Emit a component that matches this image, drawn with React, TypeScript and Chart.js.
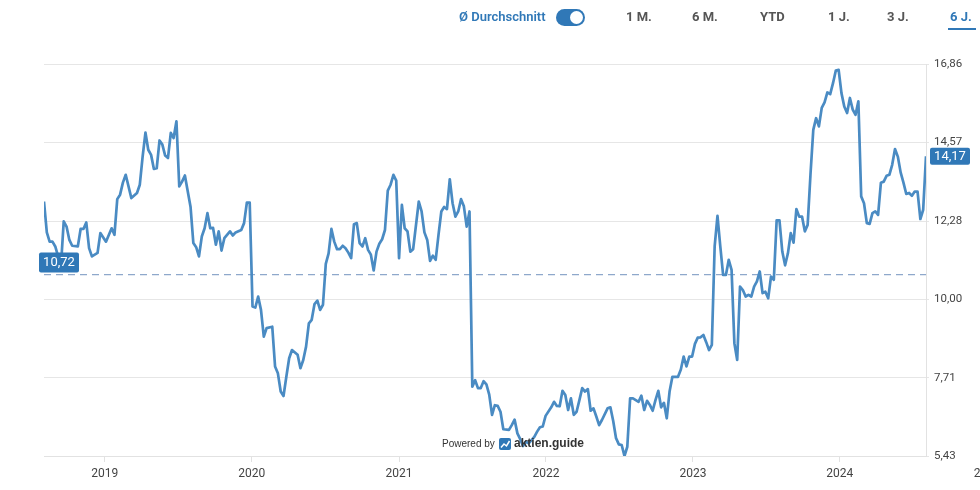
import { useEffect, useRef } from 'react';
import { Chart, registerables } from 'chart.js';
import type { ChartConfiguration, Plugin } from 'chart.js';

Chart.register(...registerables);

// weekly closes, week 0 = 2018-08-03
const startDate = Date.UTC(2018, 7, 3);
const DAY = 86400000;

const weekNumbers = [
  0, 1, 2, 3, 4, 5, 6, 7, 8, 9, 10, 12, 13, 14, 15, 16, 17, 19, 20, 22, 24, 25, 26, 27, 28, 29, 31, 33, 34,
  35, 36, 37, 38, 39, 40, 41, 42, 43, 44, 45, 46, 47, 48, 49, 50, 52, 53, 54, 55, 56, 57, 58, 59, 60, 61,
  62, 63, 64, 66, 67, 68, 70, 71, 72, 73, 74, 75, 76, 77, 78, 79, 81, 82, 83, 84, 85, 86, 87, 88, 90, 91,
  92, 93, 94, 95, 96, 97, 98, 99, 100, 101, 102, 103, 104, 105, 106, 107, 108, 109, 110, 111, 112, 113,
  114, 115, 116, 117, 118, 119, 120, 121, 122, 123, 124, 125, 126, 127, 128, 129, 130, 131, 133, 134, 135,
  136, 137, 138, 139, 140, 141, 142, 143, 144, 145, 146, 147, 148, 149, 150, 151, 152, 153, 154, 155, 156,
  157, 158, 159, 160, 161, 162, 163, 165, 166, 167, 168, 169, 170, 171, 172, 174, 175, 176, 177, 178, 180,
  181, 182, 183, 184, 185, 186, 187, 188, 189, 190, 191, 192, 193, 194, 195, 196, 197, 198, 200, 201, 202,
  203, 204, 205, 206, 207, 208, 209, 211, 212, 213, 214, 215, 216, 217, 218, 219, 220, 221, 222, 223, 225,
  226, 227, 228, 229, 230, 231, 232, 233, 234, 235, 236, 237, 238, 239, 240, 241, 242, 243, 244, 245, 246,
  247, 248, 249, 250, 251, 252, 253, 254, 255, 256, 257, 258, 259, 260, 261, 262, 263, 264, 265, 266, 267,
  268, 269, 270, 271, 272, 273, 274, 275, 276, 277, 278, 279, 280, 281, 282, 283, 284, 285, 286, 287, 288,
  289, 290, 291, 292, 293, 294, 295, 296, 297, 298, 299, 300, 301, 302, 303, 304, 305, 306, 307, 308, 309,
  310, 311, 312, 313,
];

const prices = [
  12.85, 11.95, 11.68, 11.68, 11.54, 11.25, 10.95, 12.27, 12.12, 11.73, 11.56, 11.54, 12.05, 12.05, 12.24,
  11.49, 11.25, 11.35, 11.93, 11.68, 12.07, 11.88, 12.92, 13.05, 13.4, 13.63, 12.95, 13.1, 13.34,
  14.16, 14.86, 14.36, 14.21, 13.8, 13.82, 14.63, 14.51, 14.19, 14.12, 14.85, 14.7, 15.19, 13.29, 13.43,
  13.61, 12.7, 11.64, 11.52, 11.25, 11.83, 12.07, 12.51, 12.07, 12.08, 11.59,
  11.98, 11.42, 11.78, 11.98, 11.86, 11.95, 12.02, 12.22, 12.82, 12.82, 9.79, 9.76, 10.08, 9.69, 8.91, 9.16,
  9.2, 8.04, 7.84, 7.31, 7.18, 7.74, 8.28, 8.52, 8.38, 7.99,
  8.23, 8.62, 9.3, 9.4, 9.86, 9.96, 9.69, 9.84, 11.03, 11.34, 12.05, 11.68, 11.46, 11.46, 11.56, 11.49,
  11.36, 11.2, 12.19, 12.22, 11.64, 11.54,
  11.78, 11.44, 11.3, 10.84, 11.39, 11.62, 11.75, 12.02, 13.17, 13.34, 13.63, 13.46, 11.2, 12.75, 12.07,
  11.98, 11.39, 11.46, 12.85, 12.56, 11.95,
  11.73, 11.12, 11.27, 11.15, 11.88, 12.56, 12.69, 12.63, 13.5, 12.8, 12.41, 12.56, 12.92, 12.71, 12.12,
  12.56, 7.45, 7.64, 7.41, 7.41, 7.61,
  7.52, 7.22, 6.63, 6.91, 6.89, 6.72, 6.21, 6.19, 6.33, 6.49, 6.09, 5.92, 5.72, 5.85, 5.8, 5.99, 6.14, 6.27,
  6.29, 6.6, 6.85,
  7.01, 6.89, 6.88, 7.33, 7.21, 6.77, 7.11, 6.63, 6.72, 7.06, 7.41, 7.31, 7.38, 6.75, 6.82, 6.58, 6.33,
  6.48, 6.82, 6.85, 6.45,
  5.95, 5.77, 5.75, 5.43, 5.7, 7.11, 7.11, 7.01, 7.19, 6.77, 7.04, 6.92, 6.75, 7.06, 7.33, 6.85, 6.98, 6.53,
  7.31, 7.74, 7.74,
  7.95, 8.33, 8.04, 8.33, 8.33, 8.7, 8.88, 8.89, 8.96, 8.75, 8.52, 8.67, 11.54, 12.43, 11.54, 10.71, 10.71,
  11.15, 10.86, 8.72, 8.23,
  10.37, 10.27, 10.08, 10.13, 10.08, 10.37, 10.52, 10.81, 10.18, 10.22, 10.03, 10.66, 10.57, 12.3, 12.3,
  11.39, 10.99, 11.34, 11.93, 11.65, 12.63,
  12.41, 12.41, 11.98, 12.17, 13.63, 14.94, 15.28, 15.04, 15.58, 15.74, 16.03, 15.98, 16.3, 16.67, 16.69,
  16.01, 15.62, 15.43, 15.87, 15.53, 15.38,
  15.77, 13.0, 12.8, 12.22, 12.2, 12.51, 12.56, 12.46, 13.4, 13.43, 13.6, 13.63, 13.92, 14.38, 14.16, 13.7,
  13.4, 13.07, 13.1, 13.02, 13.14,
  13.14, 12.34, 12.61, 14.17,
];

const yTicks = [5.43, 7.71, 10.0, 12.28, 14.57, 16.86];
const yearTicks = [2019, 2020, 2021, 2022, 2023, 2024];
const average = 10.72;
const periods = ['1 M.', '6 M.', 'YTD', '1 J.', '3 J.', '6 J.'];
const periodLeft = [626, 692, 760, 828, 887, 950];

const BLUE = '#3078b7';
const LINE = '#4a8bc3';
const fmt = (v: number) => v.toFixed(2).replace('.', ',');

const overlay: Plugin<'line'> = {
  id: 'overlay',
  beforeDatasetsDraw(chart) {
    const { ctx, chartArea, scales } = chart;
    const y = scales.y.getPixelForValue(average);
    ctx.save();
    ctx.strokeStyle = '#8ea8cb';
    ctx.lineWidth = 1.3;
    ctx.setLineDash([7, 5]);
    ctx.beginPath();
    ctx.moveTo(chartArea.left, y);
    ctx.lineTo(chartArea.right, y);
    ctx.stroke();
    ctx.restore();
  },
  afterDatasetsDraw(chart) {
    const { ctx, chartArea, scales } = chart;
    ctx.save();
    const box = (x: number, y: number, w: number, h: number, text: string) => {
      ctx.fillStyle = BLUE;
      ctx.beginPath();
      ctx.roundRect(x, y, w, h, 2);
      ctx.fill();
      ctx.fillStyle = '#fff';
      ctx.font = '13px Roboto';
      ctx.textAlign = 'center';
      ctx.textBaseline = 'middle';
      ctx.fillText(text, x + w / 2, y + h / 2 + 0.5);
    };
    const avgY = scales.y.getPixelForValue(average);
    box(chartArea.left - 5, avgY - 22, 40, 20, fmt(average));
    const last = prices[prices.length - 1];
    const lastY = scales.y.getPixelForValue(last);
    box(chartArea.right + 4, lastY - 8.5, 40, 17, fmt(last));

    // watermark
    ctx.textAlign = 'left';
    ctx.textBaseline = 'middle';
    ctx.fillStyle = '#333';
    ctx.font = '10px "Liberation Sans"';
    ctx.fillText('Powered by', 442, 444.5);
    ctx.fillStyle = BLUE;
    ctx.beginPath();
    ctx.roundRect(499, 438, 12, 12, 2);
    ctx.fill();
    ctx.strokeStyle = '#fff';
    ctx.lineWidth = 1.5;
    ctx.beginPath();
    ctx.moveTo(501, 447.5);
    ctx.lineTo(504, 444);
    ctx.lineTo(506.5, 446);
    ctx.lineTo(509.5, 441);
    ctx.stroke();
    ctx.fillStyle = '#333';
    ctx.font = 'bold 12px "Liberation Sans"';
    ctx.fillText('aktien.guide', 514, 443.5);

    // next year label, cut by the canvas edge
    const x2025 = scales.x.getPixelForValue(Date.UTC(2025, 0, 1));
    ctx.fillStyle = '#444';
    ctx.font = '12px Roboto';
    ctx.textAlign = 'center';
    ctx.textBaseline = 'middle';
    ctx.fillText('2025', x2025, 474);
    ctx.restore();
  },
};

function PriceChart() {
  const canvasRef = useRef<HTMLCanvasElement>(null);
  const chartRef = useRef<Chart | null>(null);

  useEffect(() => {
    if (!canvasRef.current) return;
    if (chartRef.current) chartRef.current.destroy();
    const ctx = canvasRef.current.getContext('2d');
    if (!ctx) return;

    const config: ChartConfiguration<'line'> = {
      type: 'line',
      data: {
        datasets: [
          {
            label: 'Kurs',
            data: weekNumbers.map((w, i) => ({ x: startDate + w * 7 * DAY, y: prices[i] })),
            borderColor: LINE,
            borderWidth: 2.7,
            borderJoinStyle: 'round',
            pointRadius: 0,
            tension: 0,
            fill: false,
          },
        ],
      },
      options: {
        responsive: true,
        maintainAspectRatio: false,
        animation: false,
        layout: { padding: { left: 44, top: 64, right: 0, bottom: 0 } },
        plugins: {
          legend: { display: false },
          tooltip: { enabled: false },
        },
        scales: {
          x: {
            type: 'linear',
            min: startDate,
            max: startDate + 313 * 7 * DAY,
            afterBuildTicks: (scale) => {
              scale.ticks = yearTicks.map((y) => ({ value: Date.UTC(y, 0, 1) }));
            },
            afterFit: (scale) => {
              scale.height = 34;
            },
            ticks: {
              callback: (value) => String(new Date(Number(value)).getUTCFullYear()),
              color: '#444',
              font: { family: 'Roboto', size: 12 },
              padding: 5,
              maxRotation: 0,
              autoSkip: false,
            },
            grid: { drawOnChartArea: false, tickLength: 6, color: '#e2e2e2' },
            border: { color: '#e2e2e2' },
          },
          y: {
            position: 'right',
            min: yTicks[0],
            max: yTicks[yTicks.length - 1],
            afterBuildTicks: (scale) => {
              scale.ticks = yTicks.map((v) => ({ value: v }));
            },
            afterFit: (scale) => {
              scale.width = 54;
            },
            ticks: {
              callback: (value) => fmt(Number(value)),
              color: '#444',
              font: { family: 'Roboto', size: 11.5 },
              padding: 5,
            },
            grid: { color: '#e6e6e6', tickLength: 3 },
            border: { color: '#e2e2e2' },
          },
        },
      },
      plugins: [overlay],
    };

    chartRef.current = new Chart(ctx, config);
    return () => {
      if (chartRef.current) chartRef.current.destroy();
    };
  }, []);

  return <canvas ref={canvasRef}></canvas>;
}

export default function App() {
  useEffect(() => {
    document.body.style.margin = '0';
  }, []);

  const text = { position: 'absolute' as const, top: 9, fontFamily: 'Roboto', fontSize: 13, fontWeight: 700, lineHeight: '16px' };

  return (
    <div style={{ position: 'relative', width: 980, height: 490, overflow: 'hidden', background: '#fff' }}>
      <div style={{ position: 'absolute', left: 0, top: 0, width: 980, height: 490 }}>
        <PriceChart />
      </div>
      <span style={{ ...text, left: 459, color: BLUE, fontWeight: 600 }}>Ø Durchschnitt</span>
      <div
        style={{ position: 'absolute', left: 556, top: 9, width: 29, height: 17, borderRadius: 8.5, background: BLUE }}
      >
        <div
          style={{ position: 'absolute', right: 2, top: 2, width: 13, height: 13, borderRadius: 6.5, background: '#fff' }}
        />
      </div>
      {periods.map((p, i) => (
        <span key={p} style={{ ...text, left: periodLeft[i], color: i === periods.length - 1 ? BLUE : '#555' }}>
          {p}
        </span>
      ))}
      <div style={{ position: 'absolute', left: 948, top: 28, width: 28, height: 2, background: BLUE }} />
    </div>
  );
}
